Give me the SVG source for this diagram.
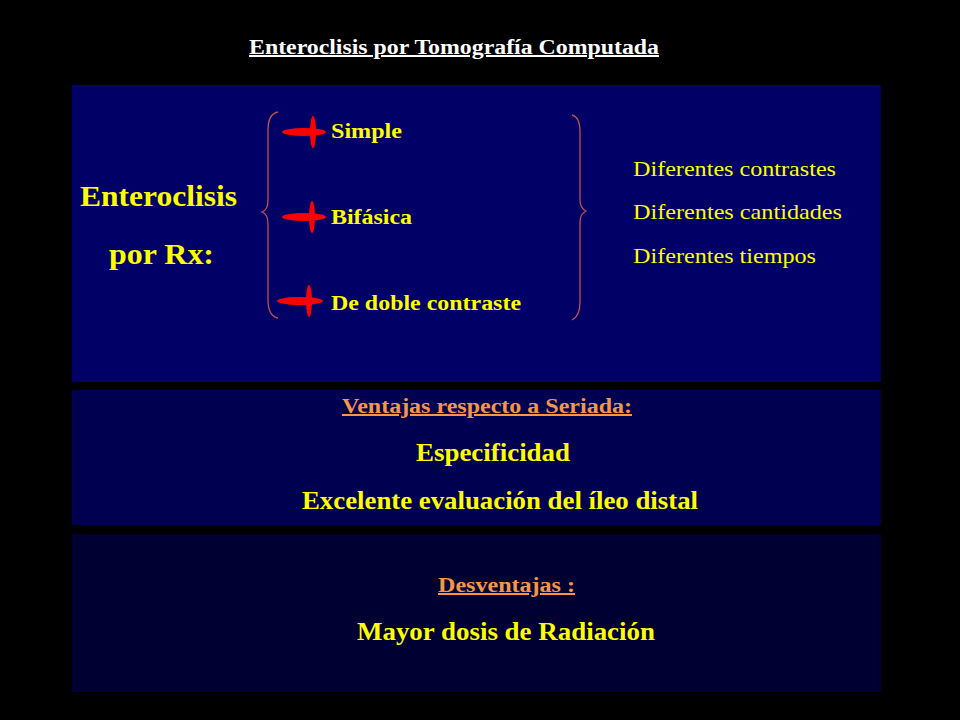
<svg xmlns="http://www.w3.org/2000/svg" width="960" height="720" viewBox="0 0 960 720">
<style>
.t{font-family:"Liberation Serif",serif;font-weight:bold}
.y{fill:#ffff00}
.s{fill:#ff0000}
.br{fill:none;stroke:#c0504d;stroke-width:1.3}
</style>
<rect width="960" height="720" fill="#000"/>
<text class="t" x="249" y="54" font-size="20" fill="#fff" text-decoration="underline" textLength="410" lengthAdjust="spacingAndGlyphs">Enteroclisis por Tomografía Computada</text>
<g id="panel-rx">
<rect x="72" y="85" width="809" height="297" fill="#000066"/>
<text class="t y" x="80" y="206" font-size="30" textLength="157" lengthAdjust="spacingAndGlyphs">Enteroclisis</text>
<text class="t y" x="109" y="264" font-size="30" textLength="105" lengthAdjust="spacingAndGlyphs">por Rx:</text>
<path class="br" d="M278,112 Q268,114 268,130 L268,200 Q268,210 262,212 Q268,214 268,224 L268,300 Q268,316 278,318"/>
<path class="br" d="M572,115 Q580,117 580,132 L580,200 Q580,208 586,211 Q580,214 580,222 L580,302 Q580,316 572,320"/>
<g class="s">
<ellipse cx="304" cy="132" rx="22" ry="4"/><ellipse cx="313" cy="132" rx="3" ry="16"/>
<ellipse cx="304" cy="217" rx="22" ry="4"/><ellipse cx="312" cy="217" rx="3" ry="16"/>
<ellipse cx="300" cy="301" rx="23" ry="4"/><ellipse cx="309" cy="301" rx="3" ry="16"/>
</g>
<text class="t y" x="331" y="138" font-size="20" textLength="71" lengthAdjust="spacingAndGlyphs">Simple</text>
<text class="t y" x="331" y="224" font-size="20" textLength="81" lengthAdjust="spacingAndGlyphs">Bifásica</text>
<text class="t y" x="331" y="310" font-size="20" textLength="190" lengthAdjust="spacingAndGlyphs">De doble contraste</text>
<g font-family="Liberation Serif,serif" font-size="21" fill="#ffff00">
<text x="633" y="176" textLength="203" lengthAdjust="spacingAndGlyphs">Diferentes contrastes</text>
<text x="633" y="219" textLength="209" lengthAdjust="spacingAndGlyphs">Diferentes cantidades</text>
<text x="633" y="263" textLength="183" lengthAdjust="spacingAndGlyphs">Diferentes tiempos</text>
</g>
</g>
<g id="panel-ventajas">
<rect x="72" y="390" width="809" height="135" fill="#000050"/>
<text class="t" x="342" y="413" font-size="20" fill="#f79646" text-decoration="underline" textLength="290" lengthAdjust="spacingAndGlyphs">Ventajas respecto a Seriada:</text>
<text class="t y" x="416" y="461" font-size="25" textLength="154" lengthAdjust="spacingAndGlyphs">Especificidad</text>
<text class="t y" x="302" y="509" font-size="25" textLength="396" lengthAdjust="spacingAndGlyphs">Excelente evaluación del íleo distal</text>
</g>
<g id="panel-desventajas">
<rect x="72" y="534" width="809" height="158" fill="#000033"/>
<text class="t" x="438" y="592" font-size="20" fill="#f79646" text-decoration="underline" textLength="137" lengthAdjust="spacingAndGlyphs">Desventajas :</text>
<text class="t y" x="357" y="640" font-size="25" textLength="298" lengthAdjust="spacingAndGlyphs">Mayor dosis de Radiación</text>
</g>
<g id="connectors"/>
</svg>
